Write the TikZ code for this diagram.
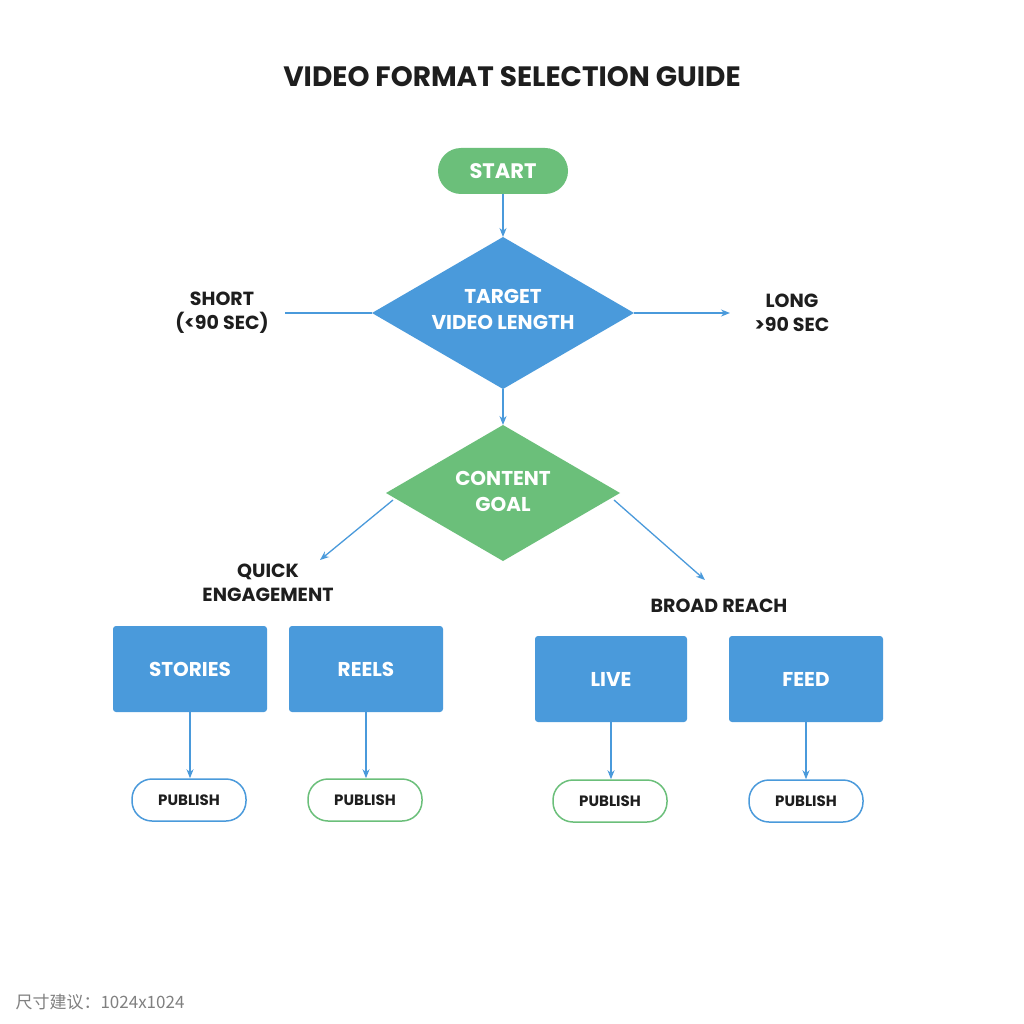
\documentclass[tikz,border=0pt]{standalone}
\usepackage{fontspec}
\setmainfont{Poppins}
\newfontfamily\cjk{Noto Sans CJK SC}
\usetikzlibrary{shapes.geometric,arrows.meta}
\definecolor{gblue}{HTML}{4A9ADB}
\definecolor{ggreen}{HTML}{6BBF7A}
\definecolor{tdark}{HTML}{1E1E1E}
\tikzset{
 every node/.style={font=\bfseries},
 conn/.style={draw=gblue,line width=1.3pt,-{Stealth[length=9pt,width=7pt]}},
 plain/.style={draw=gblue,line width=1.3pt},
 dia/.style={diamond,draw=none,text=white,font=\fontsize{20}{26}\selectfont\bfseries,align=center,inner sep=0pt},
 fmt/.style={rectangle,rounded corners=3pt,fill=gblue,text=white,font=\fontsize{20}{24}\selectfont\bfseries,minimum width=154pt,minimum height=86pt},
 pill/.style={rounded corners=20pt,fill=white,line width=1.5pt,text=tdark,font=\fontsize{15}{18}\selectfont\bfseries,minimum width=114pt,minimum height=42pt},
 lbl/.style={text=tdark,font=\fontsize{19}{24}\selectfont\bfseries,align=center}
}
\begin{document}
\begin{tikzpicture}[x=1pt,y=-1pt]
\useasboundingbox[fill=white] (0,0) rectangle (1024,1024);
\node[text=tdark,font=\fontsize{28}{32}\selectfont\bfseries] (title) at (512,77) {VIDEO FORMAT SELECTION GUIDE};
\node[rounded corners=23pt,fill=ggreen,text=white,minimum width=130pt,minimum height=46pt,font=\fontsize{21}{24}\selectfont\bfseries] (start) at (503,171) {START};
\path[fill=gblue] (372,313) coordinate (tl) -- (503,237) coordinate (tt) -- (634,313) coordinate (tr) -- (503,389) coordinate (tb) -- cycle;
\node[dia] (target) at (503,309) {TARGET\\VIDEO LENGTH};
\path[fill=ggreen] (386,493) coordinate (cl) -- (503,425) coordinate (ct) -- (620,493) coordinate (cr) -- (503,561) coordinate (cb) -- cycle;
\node[dia] (goal) at (503,491) {CONTENT\\GOAL};
\node[lbl] (short) at (222,313) {SHORT\\(<90 SEC)};
\node[lbl] (long) at (792,313) {LONG\\>90 SEC};
\node[lbl] (quick) at (268,583) {QUICK\\ENGAGEMENT};
\node[lbl] (broad) at (719,606) {BROAD REACH};
\coordinate (sh) at (285,313);
\coordinate (lo) at (730,313);
\coordinate (q1) at (393,500);
\coordinate (q2) at (320,560);
\coordinate (b1) at (614,500);
\coordinate (b2) at (705,580);
\draw[conn] (start) -- (tt);
\draw[plain] (tl) -- (sh);
\draw[conn] (tr) -- (lo);
\draw[conn] (tb) -- (ct);
\draw[conn] (q1) -- (q2);
\draw[conn] (b1) -- (b2);
\node[fmt] (stories) at (190,669) {STORIES};
\node[fmt] (reels) at (366,669) {REELS};
\node[fmt,minimum width=152pt] (live) at (611,679) {LIVE};
\node[fmt] (feed) at (806,679) {FEED};
\node[pill,draw=gblue] (p1) at (189,800) {PUBLISH};
\node[pill,draw=ggreen] (p2) at (365,800) {PUBLISH};
\node[pill,draw=ggreen] (p3) at (610,801) {PUBLISH};
\node[pill,draw=gblue] (p4) at (806,801) {PUBLISH};
\draw[conn] (stories) -- (p1.north -| stories);
\draw[conn] (reels) -- (p2.north -| reels);
\draw[conn] (live) -- (p3.north -| live);
\draw[conn] (feed) -- (p4.north -| feed);
\node[anchor=west,text=gray,font=\cjk\fontsize{17}{20}\selectfont] (foot) at (12,1002) {尺寸建议：1024x1024};
\end{tikzpicture}
\end{document}
